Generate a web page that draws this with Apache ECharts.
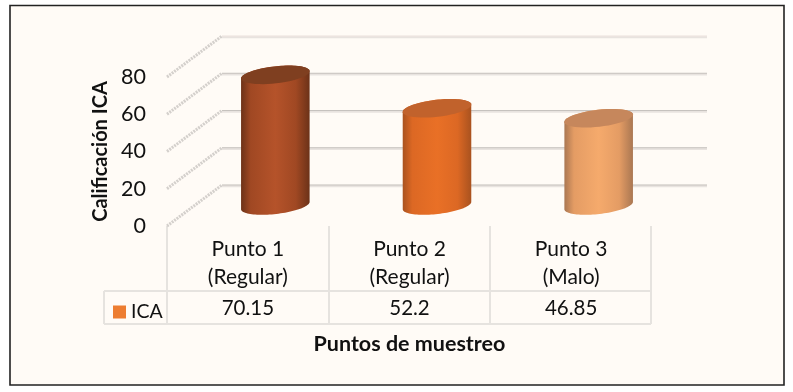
<!DOCTYPE html>
<html>
<head>
<meta charset="utf-8">
<style>
  html, body { margin: 0; padding: 0; background: #fff; }
  #main { width: 793px; height: 392px; }
</style>
<script src="https://cdn.jsdelivr.net/npm/echarts@6/dist/echarts.min.js"></script>
</head>
<body>
<div id="main"></div>
<script>
// datos
const categories = ['Punto 1\n(Regular)', 'Punto 2\n(Regular)', 'Punto 3\n(Malo)']
const values = [70.15, 52.2, 46.85]
const yTicks = [0, 20, 40, 60, 80]
const seriesName = 'ICA'

const FONT = 'Lato'
// profundidad del piso 3D
const DEPTH_X = 55
const DEPTH_Y = -41
const RX = 34.5
const RY = 8.5
const TILT = -6.5 * Math.PI / 180
const barColors = [
  { edge: '#6c3218', soft: '#a04823', mid: '#b5532a', top: '#7f3f20' },
  { edge: '#a9521f', soft: '#dc6824', mid: '#e97026', top: '#c1622c' },
  { edge: '#aa7752', soft: '#e49c64', mid: '#f5aa6c', top: '#c6875c' },
]

function ellipsePoints(cx, cy, from, to) {
  const pts = []
  for (let i = 0; i <= 48; i++) {
    const t = from + (to - from) * i / 48
    const x = RX * Math.cos(t)
    const y = RY * Math.sin(t)
    pts.push([cx + x * Math.cos(TILT) - y * Math.sin(TILT), cy + x * Math.sin(TILT) + y * Math.cos(TILT)])
  }
  return pts
}

function renderWall(params, api) {
  const sys = params.coordSys
  const y = api.coord([0, api.value(0)])[1]
  const children = [
    {
      type: 'line',
      shape: { x1: sys.x, y1: y, x2: sys.x + DEPTH_X, y2: y + DEPTH_Y },
      style: { stroke: '#d4d0cc', lineWidth: 3, lineDash: [2, 1] },
    },
    {
      type: 'line',
      shape: { x1: sys.x + DEPTH_X, y1: y + DEPTH_Y + 1, x2: sys.x + sys.width + DEPTH_X, y2: y + DEPTH_Y + 1 },
      style: { stroke: '#e8e3df', lineWidth: 2.5 },
    },
    {
      type: 'line',
      shape: { x1: sys.x + DEPTH_X, y1: y + DEPTH_Y, x2: sys.x + sys.width + DEPTH_X, y2: y + DEPTH_Y },
      style: { stroke: api.value(0) === 80 ? '#f0e6e2' : '#c6c2be', lineWidth: 1 },
    },
  ]
  return { type: 'group', children }
}

function renderCylinder(params, api) {
  const base = api.coord([api.value(0), 0])
  const head = api.coord([api.value(0), api.value(1)])
  const cx = base[0] + DEPTH_X / 2
  const by = base[1] + DEPTH_Y / 2
  const ty = head[1] + DEPTH_Y / 2
  const c = barColors[params.dataIndex]
  const body = ellipsePoints(cx, by, 0, Math.PI).concat(ellipsePoints(cx, ty, Math.PI, 2 * Math.PI))
  const fill = {
    type: 'linear', x: 0, y: 0, x2: 1, y2: 0,
    colorStops: [
      { offset: 0, color: c.edge },
      { offset: 0.14, color: c.soft },
      { offset: 0.5, color: c.mid },
      { offset: 0.8, color: c.soft },
      { offset: 1, color: c.edge },
    ],
  }
  return {
    type: 'group',
    children: [
      { type: 'polygon', shape: { points: body }, style: { fill } },
      { type: 'polygon', shape: { points: ellipsePoints(cx, ty, 0, 2 * Math.PI) }, style: { fill: c.top } },
    ],
  }
}

const tableLine = '#e6e3df'
function hLine(y) {
  return { type: 'line', shape: { x1: 104, y1: y, x2: 651, y2: y }, style: { stroke: tableLine, lineWidth: 2 } }
}
function vLine(x, y1) {
  return { type: 'line', shape: { x1: x, y1, x2: x, y2: 324 }, style: { stroke: tableLine, lineWidth: 2 } }
}

const chart = echarts.init(document.getElementById('main'), null, { renderer: 'canvas' })
chart.setOption({
  animation: false,
  backgroundColor: '#fff',
  textStyle: { fontFamily: FONT },
  grid: { left: 167, top: 77, width: 485, height: 149, containLabel: false },
  legend: {
    data: [{ name: seriesName, icon: 'rect', itemStyle: { color: '#ed7d31' } }],
    left: 108, top: 297,
    itemWidth: 13, itemHeight: 13, itemGap: 3,
    textStyle: { fontFamily: FONT, fontSize: 19.5, color: '#111' },
    selectedMode: false,
  },
  xAxis: [
    {
      type: 'category',
      data: categories,
      axisLine: { show: false },
      axisTick: { show: false },
      axisLabel: { fontFamily: FONT, fontSize: 21, lineHeight: 28, color: '#111', margin: 9 },
    },
    {
      type: 'category',
      position: 'bottom',
      offset: 72,
      data: values.map(String),
      axisLine: { show: false },
      axisTick: { show: false },
      axisLabel: { fontFamily: FONT, fontSize: 20.5, color: '#111', margin: 0 },
      name: 'Puntos de muestreo',
      nameLocation: 'middle',
      nameGap: 35,
      nameTextStyle: { fontFamily: FONT, fontSize: 21.5, fontWeight: 'bold', color: '#111' },
    },
  ],
  yAxis: {
    type: 'value',
    min: 0,
    max: 80,
    interval: 20,
    axisLine: { show: false },
    axisTick: { show: false },
    splitLine: { show: false },
    axisLabel: { fontFamily: FONT, fontSize: 21.5, color: '#111', margin: 21, padding: [4, 0, 0, 0] },
    name: 'Calificación ICA',
    nameLocation: 'middle',
    nameGap: 54,
    nameTextStyle: { fontFamily: FONT, fontSize: 20, fontWeight: 'bold', color: '#111' },
  },
  graphic: [
    { type: 'rect', z: -10, shape: { x: 10, y: 5.5, width: 774, height: 379.5 }, style: { fill: '#fffbf6', stroke: '#222', lineWidth: 1.6 } },
    { type: 'group', z: -5, children: [hLine(291), hLine(324), vLine(104, 291), vLine(167, 226), vLine(329, 226), vLine(490, 226), vLine(651, 226)] },
  ],
  series: [
    {
      name: 'pared',
      type: 'custom',
      renderItem: renderWall,
      coordinateSystem: 'cartesian2d',
      data: yTicks.map(v => [v]),
      encode: { y: 0 },
      silent: true,
      z: 1,
    },
    {
      name: seriesName,
      type: 'custom',
      renderItem: renderCylinder,
      itemStyle: { color: '#ed7d31' },
      data: values.map((v, i) => [i, v]),
      encode: { x: 0, y: 1 },
      z: 2,
    },
  ],
})
</script>
</body>
</html>
